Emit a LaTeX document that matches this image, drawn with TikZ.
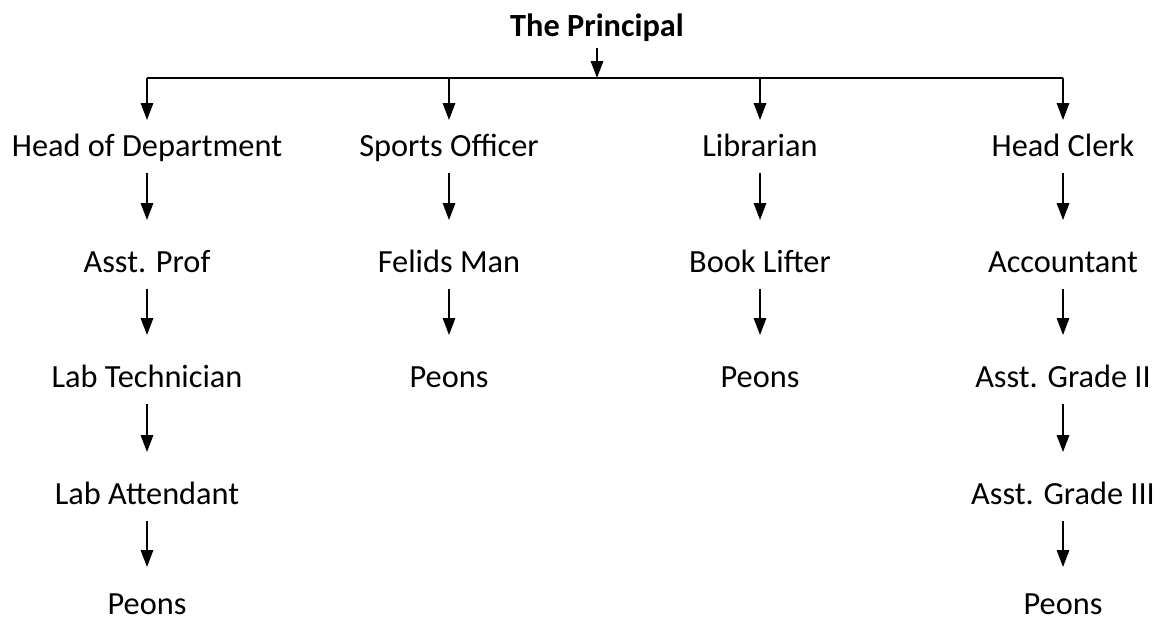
\documentclass[tikz,border=0pt]{standalone}
\usepackage{fontspec}
\setmainfont{Carlito}
\usetikzlibrary{arrows.meta}

\tikzset{
  post/.style={font=\fontsize{18.4}{22}\selectfont,text height=12.5pt,text depth=3.5pt,inner sep=1pt},
  down/.style={-{Triangle[length=0.34cm,width=0.25cm]},line width=0.9pt}
}

\begin{document}
\begin{tikzpicture}[x=0.02cm,y=-0.02cm]
\useasboundingbox (0,0) rectangle (1162,625);

\node[post,font=\fontsize{18.4}{22}\selectfont\bfseries] (prin) at (597,29) {The Principal};

\coordinate (top) at (597,48);
\coordinate (bar) at (597,78);
\coordinate (barL) at (147,78);
\coordinate (barR) at (1063,78);
\coordinate (bar2) at (449,78);
\coordinate (bar3) at (760,78);

\node[post] (hod) at (147,149) {Head of Department};
\node[post] (spo) at (449,149) {Sports Officer};
\node[post] (lib) at (760,149) {Librarian};
\node[post] (hc) at (1063,149) {Head Clerk};

\node[post] (ap) at (147,265) {Asst. Prof};
\node[post] (fm) at (449,265) {Felids Man};
\node[post] (bl) at (760,265) {Book Lifter};
\node[post] (acc) at (1063,265) {Accountant};

\node[post] (lt) at (147,380) {Lab Technician};
\node[post] (pe2) at (449,380) {Peons};
\node[post] (pe3) at (760,380) {Peons};
\node[post] (ag2) at (1063,380) {Asst. Grade II};

\node[post] (la) at (147,497) {Lab Attendant};
\node[post] (ag3) at (1063,497) {Asst. Grade III};

\node[post] (pe1) at (147,607) {Peons};
\node[post] (pe4) at (1063,607) {Peons};

% the principal and the bar
\draw[down] (top) -- (bar);
\draw[line width=1.2pt] (barL) -- (barR);
\foreach \a/\b in {barL/hod,bar2/spo,bar3/lib,barR/hc}
  \draw[down,shorten >=0.58cm] (\a) -- (\b.center);

% the columns
\foreach \a/\b in {hod/ap,ap/lt,lt/la,spo/fm,fm/pe2,lib/bl,bl/pe3,hc/acc,acc/ag2,ag2/ag3}
  \draw[down,shorten <=0.48cm,shorten >=0.9cm] (\a.center) -- (\b.center);
\foreach \a/\b in {la/pe1,ag3/pe4}
  \draw[down,shorten <=0.48cm,shorten >=0.8cm] (\a.center) -- (\b.center);

\end{tikzpicture}
\end{document}
